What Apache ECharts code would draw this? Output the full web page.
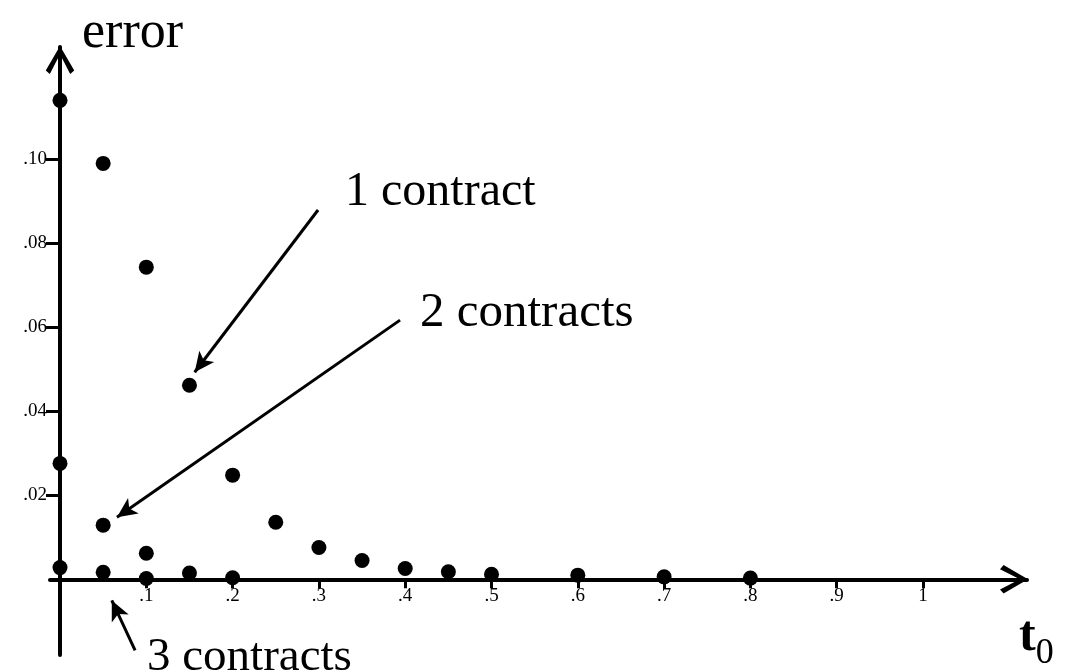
<!DOCTYPE html>
<html>
<head>
<meta charset="utf-8">
<script src="https://cdn.jsdelivr.net/npm/echarts@6/dist/echarts.min.js"></script>
<style>
  html, body { margin: 0; padding: 0; background: #fff; }
  #chart { width: 1082px; height: 672px; }
</style>
</head>
<body>
<div id="chart"></div>
<script>
// values
const oneContractX = [0, 0.05, 0.1, 0.15, 0.2, 0.25, 0.3, 0.35, 0.4, 0.45, 0.5, 0.6, 0.7, 0.8];
const oneContractY = [0.114, 0.099, 0.0743, 0.0462, 0.0248, 0.0136, 0.0076, 0.0045, 0.0026, 0.0018, 0.0012, 0.001, 0.0006, 0.0003];
const twoContractsX = [0, 0.05, 0.1];
const twoContractsY = [0.0276, 0.0129, 0.0062];
const threeContractsX = [0, 0.05, 0.1, 0.15, 0.2];
const threeContractsY = [0.0028, 0.0017, 0.0002, 0.0015, 0.0004];

const xTicks = [0.1, 0.2, 0.3, 0.4, 0.5, 0.6, 0.7, 0.8, 0.9, 1.0];
const xTickLabels = ['.1', '.2', '.3', '.4', '.5', '.6', '.7', '.8', '.9', '1'];
const yTicks = [0.02, 0.04, 0.06, 0.08, 0.10];
const yTickLabels = ['.02', '.04', '.06', '.08', '.10'];

// annotation arrows, [from, to] in data units
const arrow1 = [[0.299, 0.0879], [0.156, 0.0493]];
const arrow2 = [[0.394, 0.0617], [0.066, 0.0148]];
const arrow3 = [[0.087, -0.0169], [0.060, -0.005]];

const FONT = '"Liberation Serif", "DejaVu Serif", serif';
// open chevron used as the axis arrow heads
const CHEVRON = 'path://M14,0 L28,24 L24,27.5 L14,8 L4,27.5 L0,24 Z';

function zip(xs, ys) {
    return xs.map((x, i) => [x, ys[i]]);
}
function pick(ticks, labels) {
    return function (v) {
        const i = ticks.findIndex(t => Math.abs(t - v) < 1e-9);
        return i >= 0 ? labels[i] : '';
    };
}

const chart = echarts.init(document.getElementById('chart'));
const dot = {
    type: 'scatter',
    symbol: 'circle',
    symbolSize: 15,
    itemStyle: { color: '#000', opacity: 1 },
    silent: true
};
const arrowLine = (pts) => ({
    symbol: ['none', 'arrow'],
    symbolSize: [14, 20],
    silent: true,
    label: { show: false },
    lineStyle: { color: '#000', width: 3, type: 'solid', opacity: 1 },
    data: [[{ coord: pts[0] }, { coord: pts[1] }]]
});

const option = {
    backgroundColor: '#fff',
    animation: false,
    grid: { left: 50, right: 55, top: 47, bottom: 17, containLabel: false },
    xAxis: {
        type: 'value',
        min: -0.0116,
        max: 1.1205,
        splitLine: { show: false },
        axisLine: {
            onZero: true,
            symbol: ['none', CHEVRON],
            symbolSize: [29, 28],
            symbolOffset: [0, -13],
            lineStyle: { color: '#000', width: 4 }
        },
        axisTick: { customValues: xTicks, length: 9, lineStyle: { color: '#000', width: 3 } },
        axisLabel: {
            customValues: xTicks,
            formatter: pick(xTicks, xTickLabels),
            color: '#000', fontFamily: FONT, fontSize: 19, margin: -68
        }
    },
    yAxis: [{
        type: 'value',
        min: -0.018,
        max: 0.1267,
        splitLine: { show: false },
        axisLine: {
            onZero: true,
            symbol: ['none', CHEVRON],
            symbolSize: [29, 28],
            symbolOffset: [0, -13],
            lineStyle: { color: '#000', width: 4 }
        },
        axisTick: { customValues: yTicks, length: 14, lineStyle: { color: '#000', width: 3 } },
        axisLabel: {
            customValues: yTicks,
            formatter: pick(yTicks, yTickLabels),
            color: '#000', fontFamily: FONT, fontSize: 19, margin: 3
        }
    }, {
        type: 'value',
        min: -0.018,
        max: 0.1267,
        position: 'left',
        splitLine: { show: false },
        axisLine: { show: false, onZero: true },
        axisTick: { customValues: yTicks, inside: true, length: 10, lineStyle: { color: '#000', width: 3 } },
        axisLabel: { show: false }
    }],
    series: [
        Object.assign({ name: '1 contract', data: zip(oneContractX, oneContractY),
            markLine: arrowLine(arrow1) }, dot),
        Object.assign({ name: '2 contracts', data: zip(twoContractsX, twoContractsY),
            markLine: arrowLine(arrow2) }, dot),
        Object.assign({ name: '3 contracts', data: zip(threeContractsX, threeContractsY),
            markLine: arrowLine(arrow3) }, dot)
    ],
    graphic: [
        { type: 'text', left: 82, top: 7, style: { text: 'error', font: '52px ' + FONT, fill: '#000' } },
        { type: 'text', left: 345, top: 168, style: { text: '1 contract', font: '48px ' + FONT, fill: '#000' } },
        { type: 'text', left: 420, top: 289, style: { text: '2 contracts', font: '49px ' + FONT, fill: '#000' } },
        { type: 'text', left: 147, top: 634, style: { text: '3 contracts', font: '47px ' + FONT, fill: '#000' } },
        {
            type: 'text', left: 1019, top: 612,
            style: {
                text: '{t|t}{s|0}',
                rich: {
                    t: { fontFamily: FONT, fontSize: 50, fontWeight: 'bold', fill: '#000', color: '#000' },
                    s: { fontFamily: FONT, fontSize: 36, fill: '#000', color: '#000', padding: [33, 0, 0, 0] }
                }
            }
        }
    ]
};
chart.setOption(option);
window.addEventListener('resize', function () {
    chart.resize();
});
</script>
</body>
</html>
